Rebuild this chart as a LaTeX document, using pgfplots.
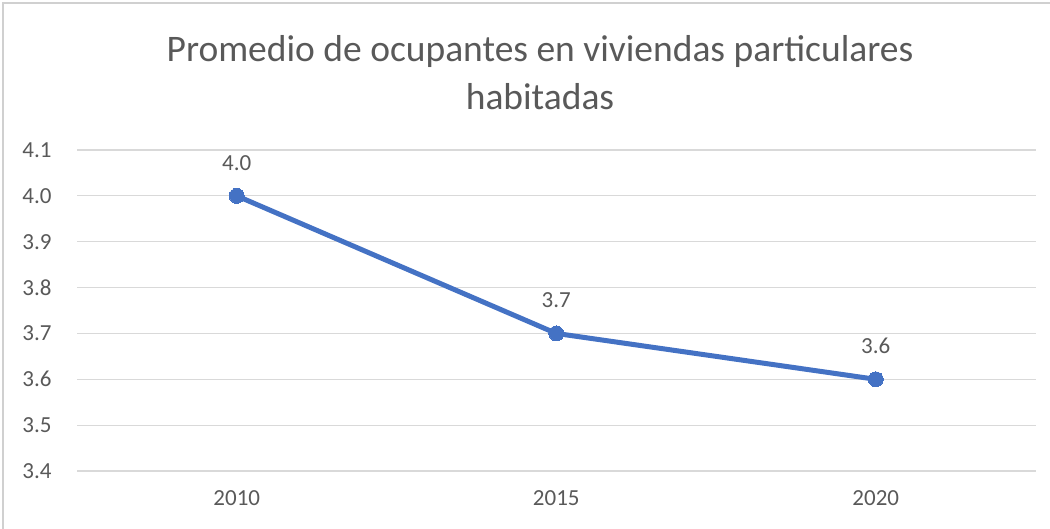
\documentclass[border=0pt]{standalone}
\usepackage{fontspec}
\setmainfont{Carlito}
\usepackage{pgfplots}
\pgfplotsset{compat=1.18}
\definecolor{lineblue}{HTML}{4472C4}
\definecolor{gridgray}{HTML}{D9D9D9}
\definecolor{txt}{HTML}{595959}
\definecolor{frame}{HTML}{D0D0D0}
\begin{document}
\begin{tikzpicture}[x=1bp,y=1bp]
\path[use as bounding box] (0,0) rectangle (1050,-529);
\draw[frame, line width=1.5bp] (3,-529) -- (3,-3) -- (1050,-3);
\node[txt, font=\fontsize{37.5bp}{44bp}\selectfont] at (540,-52) {Promedio de ocupantes en viviendas particulares};
\node[txt, font=\fontsize{37.5bp}{44bp}\selectfont] at (540,-97) {habitadas};
\begin{axis}[
  at={(77bp,-471bp)}, anchor=south west,
  scale only axis, width=958.5bp, height=321bp,
  xmin=-0.5, xmax=2.5, ymin=3.4, ymax=4.1,
  xtick={0,1,2}, xticklabels={2010,2015,2020},
  ytick={3.4,3.5,3.6,3.7,3.8,3.9,4.0,4.1},
  yticklabel style={/pgf/number format/fixed, /pgf/number format/fixed zerofill, /pgf/number format/precision=1, xshift=-22bp},
  /pgf/number format/assume math mode=true,
  ymajorgrids, grid style={gridgray, line width=1.2bp},
  axis line style={draw=none},
  major tick style={draw=none},
  tick label style={txt, font=\fontsize{23bp}{27bp}\selectfont},
  xticklabel style={yshift=-16bp},
  clip=false,
]
\addplot[lineblue, line width=5bp, mark=*, mark size=7.5bp,
  mark options={fill=lineblue, draw=lineblue, line width=0bp},
  nodes near coords, nodes near coords align={center},
  point meta=y,
  every node near coord/.append style={txt, font=\fontsize{23bp}{27bp}\selectfont, yshift=33bp,
    /pgf/number format/fixed, /pgf/number format/fixed zerofill, /pgf/number format/precision=1},
] coordinates {(0,4.0) (1,3.7) (2,3.6)};
\end{axis}
\end{tikzpicture}
\end{document}
